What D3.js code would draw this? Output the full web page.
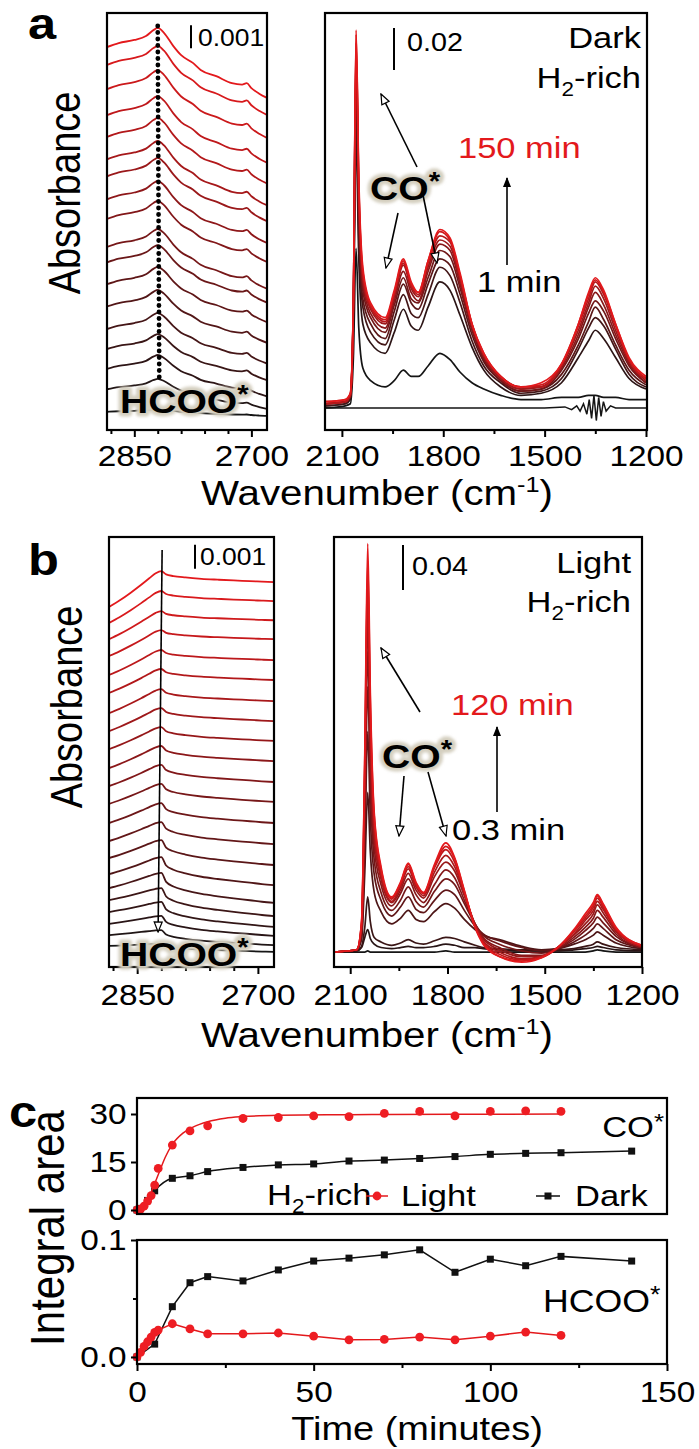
<!DOCTYPE html>
<html>
<head>
<meta charset="utf-8">
<style>
  body { margin: 0; background: #fff; }
  svg { display: block; font-family: 'Liberation Sans', Arial, sans-serif; }
</style>
<title>DRIFTS CO* and HCOO*</title>
</head>
<body>
<svg width="699" height="1449"></svg>
<script src="https://d3js.org/d3.v7.min.js"></script>
<script>
// ---------- data (absorbance in units of 0.001) ----------

// HCOO* region, dark (panel a, left), traces bottom (1 min) to top (150 min)
const hcooWavesL_a = [2885, 2870, 2850, 2835, 2825, 2820];
const hcooShapeL_a = [1, 0.79, 0.63, 0.42, 0.1, 0];
const hcooWavesR_a = [2820, 2812, 2800, 2790, 2775, 2765, 2745, 2725, 2712, 2706, 2700, 2690, 2680];
const hcooShapeR_a = [0, 0.07, 0.26, 0.39, 0.5, 0.6, 0.69, 0.79, 0.81, 0.79, 0.86, 0.94, 1];
const darkHcooPeak = [0.91, 2.22, 3.26, 4.17, 5.09, 6.09, 7.09, 8.04, 8.74, 9.96, 10.83, 11.83, 12.57, 13.57, 14.52, 15.65, 16.70, 17.48];
const darkHcooDropL = [0.12, 0.45, 0.6, 0.65, 0.7, 0.72, 0.75, 0.75, 0.78, 0.78, 0.8, 0.8, 0.8, 0.83, 0.83, 0.83, 0.83, 0.83];
const darkHcooDropR = [0.3, 1.3, 1.8, 2.0, 2.2, 2.3, 2.4, 2.5, 2.6, 2.65, 2.7, 2.75, 2.8, 2.85, 2.9, 2.95, 3.0, 3.04];

// HCOO* region, light (panel b, left)
const hcooWavesL_b = [2885, 2872, 2858, 2845, 2835, 2827, 2820];
const hcooShapeL_b = [1, 0.82, 0.6, 0.38, 0.2, 0.06, 0];
const hcooWavesR_b = [2820, 2814, 2805, 2790, 2770, 2750, 2730, 2710, 2695, 2680];
const hcooShapeR_b = [0, 0.3, 0.45, 0.58, 0.7, 0.78, 0.85, 0.91, 0.96, 1];
const lightHcooPeak = [0.96, 1.54, 2.13, 2.71, 3.29, 3.92, 4.58, 5.29, 6.04, 6.83, 7.63, 8.42, 9.21, 10.0, 10.79, 11.58, 12.42, 13.21, 14.04, 14.83, 15.67, 16.5];
const lightHcooDropL = [0.08, 0.21, 0.33, 0.42, 0.5, 0.63, 0.71, 0.75, 0.79, 0.83, 0.83, 0.88, 0.92, 0.92, 0.96, 1.0, 1.0, 1.04, 1.08, 1.17, 1.33, 1.5];
const lightHcooDropR = [0.33, 0.63, 0.83, 1.04, 1.17, 1.25, 1.17, 1.04, 0.92, 0.83, 0.75, 0.71, 0.63, 0.58, 0.54, 0.5, 0.46, 0.42, 0.38, 0.38, 0.42, 0.46];

// CO* region, dark (panel a, right), 1 min -> 150 min
const darkWaves = [2150, 2090, 2075, 2066, 2058, 2050, 2038, 2015, 1972, 1945, 1918, 1895, 1874, 1845, 1810, 1780, 1750, 1715, 1680, 1630, 1570, 1510, 1450, 1400, 1370, 1350, 1325, 1290, 1250, 1200];
const darkSpectra = [
  [0, 1, 2, 24, 76, 38, 19, 13, 10, 13, 18, 15, 15, 20, 26, 23, 17, 12, 9, 6, 4, 4, 5, 5, 6, 6, 5, 5, 4, 4],
  [1, 2, 4, 40, 129, 71, 40, 31, 26, 36, 47, 39, 37, 48, 60, 56, 44, 29, 18, 10, 6, 7, 12, 24, 32, 37, 33, 24, 14, 9],
  [1, 2, 5, 44, 143, 81, 48, 36, 30, 42, 54, 45, 43, 54, 67, 63, 50, 32, 20, 12, 7, 8, 14, 28, 38, 43, 39, 28, 16, 10],
  [2, 3, 5, 46, 152, 88, 52, 40, 33, 46, 59, 50, 47, 59, 71, 68, 54, 35, 22, 13, 8, 9, 16, 30, 41, 48, 42, 30, 18, 11],
  [2, 3, 6, 48, 160, 93, 56, 43, 36, 49, 62, 52, 50, 62, 75, 72, 57, 37, 23, 13, 8, 9, 18, 33, 45, 51, 46, 33, 20, 12],
  [2, 3, 6, 49, 166, 98, 59, 45, 38, 51, 65, 55, 51, 65, 78, 75, 59, 38, 24, 14, 9, 10, 19, 35, 48, 55, 49, 35, 21, 12],
  [2, 3, 6, 50, 170, 101, 61, 47, 40, 53, 68, 57, 53, 67, 80, 77, 61, 39, 25, 14, 9, 10, 20, 37, 50, 58, 52, 37, 22, 13],
  [2, 3, 6, 51, 174, 105, 63, 48, 41, 54, 69, 58, 54, 69, 82, 79, 62, 40, 25, 15, 10, 10, 20, 39, 52, 60, 54, 39, 23, 14],
  [3, 4, 7, 51, 178, 107, 65, 49, 42, 55, 70, 59, 55, 70, 84, 80, 63, 40, 26, 15, 10, 11, 21, 40, 54, 61, 55, 40, 23, 14],
  [3, 4, 7, 52, 180, 110, 67, 50, 43, 56, 71, 60, 55, 70, 85, 81, 64, 40, 26, 15, 10, 12, 21, 40, 55, 62, 56, 40, 24, 15]
];
const darkBaseWaves = [2150, 1500, 1440, 1420, 1405, 1395, 1385, 1375, 1368, 1361, 1354, 1347, 1340, 1333, 1326, 1318, 1305, 1290, 1200];
const darkBaseAbs = [0, 0, 0.5, -0.8, 1, -1.5, 2, -3, 4, -5, 6, -6, 5, -4, 3, -1.5, 1, 0, 0];

// CO* region, light (panel b, right), 0.3 min -> 120 min
const lightWaves = [2150, 2080, 2065, 2055, 2046, 2038, 2026, 2005, 1972, 1945, 1921, 1897, 1874, 1840, 1805, 1778, 1748, 1715, 1690, 1640, 1571, 1510, 1460, 1410, 1375, 1350, 1338, 1320, 1280, 1200];
const lightSpectra = [
  [0, 0, 0, 0, 1, 0, 0, 0, 0, 0, 0, 0, 0, 0, 1, 0, 0, 0, 0, 0, 0, 0, 0, 0, 0, 1, 2, 1, 0, 0],
  [0, 1, 4, 13, 20, 12, 7, 4, 3, 4, 5, 4, 4, 5, 7, 6, 4, 4, 3, 2, 1, 1, 1, 2, 3, 4, 5, 4, 2, 1],
  [0, 1, 5, 22, 49, 27, 13, 9, 6, 8, 11, 8, 7, 10, 13, 12, 9, 6, 4, 3, 2, 2, 2, 3, 5, 7, 9, 7, 4, 2],
  [0, 2, 11, 71, 142, 89, 53, 36, 25, 30, 37, 29, 27, 36, 43, 39, 29, 20, 15, 11, 5, 2, 3, 7, 11, 15, 18, 15, 8, 3],
  [0, 2, 14, 93, 196, 120, 69, 46, 32, 40, 49, 38, 35, 46, 55, 51, 37, 23, 16, 10, 4, 1, 3, 9, 15, 21, 25, 21, 11, 4],
  [0, 2, 17, 111, 236, 147, 82, 53, 37, 46, 58, 45, 40, 54, 65, 60, 43, 25, 15, 7, 1, -1, 3, 11, 19, 26, 31, 26, 14, 4],
  [0, 2, 20, 129, 267, 164, 93, 60, 41, 52, 65, 51, 44, 60, 73, 66, 46, 25, 13, 4, -3, -3, 3, 13, 22, 30, 37, 31, 16, 4],
  [0, 2, 21, 142, 293, 182, 102, 65, 44, 55, 70, 55, 48, 67, 80, 72, 50, 25, 12, 2, -4, -4, 4, 15, 25, 34, 42, 35, 18, 5],
  [0, 2, 23, 156, 316, 197, 109, 68, 45, 58, 74, 58, 50, 71, 86, 76, 52, 24, 10, 0, -6, -4, 4, 16, 28, 37, 45, 38, 19, 5],
  [0, 2, 25, 164, 333, 211, 116, 71, 47, 60, 76, 60, 52, 75, 91, 80, 53, 23, 9, -2, -7, -4, 4, 18, 30, 40, 48, 40, 20, 5],
  [0, 2, 26, 172, 348, 222, 121, 74, 48, 61, 78, 61, 52, 76, 94, 83, 54, 22, 8, -4, -8, -5, 4, 19, 32, 42, 50, 42, 21, 6],
  [0, 2, 27, 178, 363, 231, 124, 76, 49, 62, 79, 62, 53, 78, 97, 84, 55, 22, 7, -4, -9, -5, 4, 20, 34, 44, 51, 43, 22, 6]
];

// panel c: integral areas vs time (minutes)
const lightTime = [0, 1, 2, 3, 4, 5, 6, 10, 15, 20, 30, 40, 50, 60, 70, 80, 90, 100, 110, 120];
const lightCO = [0, 0.3, 1.2, 2.8, 4.5, 7.8, 13, 20.3, 24.7, 26.3, 28.6, 28.9, 29.4, 29.2, 30.2, 30.8, 29.4, 30.8, 31, 30.8];
const lightHCOO = [0, 0.004, 0.009, 0.013, 0.017, 0.021, 0.023, 0.0284, 0.024, 0.0198, 0.0198, 0.0205, 0.0178, 0.0147, 0.015, 0.017, 0.0147, 0.0178, 0.0213, 0.0184];
const lightFitTime = [0, 2, 4, 6, 8, 10, 13, 16, 20, 25, 30, 40, 60, 90, 120];
const lightFitCO = [0, 1.5, 5.5, 11, 16.5, 20.5, 24, 26, 27.6, 28.7, 29.2, 29.6, 29.8, 29.9, 30];
const darkTimeCO = [0, 1, 3, 5, 10, 15, 20, 30, 40, 50, 60, 70, 80, 90, 100, 110, 120, 140];
const darkCO = [0, 0.5, 3, 6, 9.9, 10.7, 12, 13.3, 14.1, 14.4, 15.3, 15.6, 16.1, 16.7, 17.4, 17.7, 17.9, 18.4];
const darkTimeHCOO = [0, 5, 10, 15, 20, 30, 40, 50, 60, 70, 80, 90, 100, 110, 120, 140];
const darkHCOO = [0, 0.011, 0.043, 0.0635, 0.0687, 0.065, 0.0744, 0.082, 0.0845, 0.0873, 0.0916, 0.0724, 0.0836, 0.078, 0.086, 0.082];

const waveTicksHcoo = [2850, 2700];
const waveMinorHcoo = [2880, 2820, 2790, 2760, 2730];
const waveTicksCO = [2100, 1800, 1500, 1200];
const waveMinorCO = [1950, 1650, 1350];
const timeTicks = [0, 50, 100, 150];
const timeMinor = [25, 75, 125];

// ---------- drawing ----------
const svg = d3.select('svg');
const SX = 1.15;          // the original figure is stretched horizontally
const RED = '#e3191c';
const traceColor = (i, n) => d3.interpolateRgb('#151515', RED)(n > 1 ? i / (n - 1) : 1);

const defs = svg.append('defs');
defs.append('filter').attr('id', 'soft').attr('x', '-20%').attr('y', '-40%')
  .attr('width', '140%').attr('height', '180%')
  .append('feGaussianBlur').attr('stdDeviation', 1.6);

defs.append('marker').attr('id', 'openHead').attr('viewBox', '0 0 12 10')
  .attr('refX', 11).attr('refY', 5).attr('markerWidth', 12).attr('markerHeight', 10)
  .attr('markerUnits', 'userSpaceOnUse').attr('orient', 'auto')
  .append('path').attr('d', 'M1,1 L11,5 L1,9 Z')
  .attr('fill', '#fff').attr('stroke', '#000').attr('stroke-width', 1.2);
defs.append('marker').attr('id', 'fullHead').attr('viewBox', '0 0 10 8')
  .attr('refX', 9).attr('refY', 4).attr('markerWidth', 10).attr('markerHeight', 8)
  .attr('markerUnits', 'userSpaceOnUse').attr('orient', 'auto')
  .append('path').attr('d', 'M0,0 L10,4 L0,8 Z').attr('fill', '#000');

function addText(x, y, size, opts = {}) {
  return svg.append('text')
    .attr('transform', `translate(${x},${y}) scale(${SX},1)${opts.rotate ? ' rotate(-90)' : ''}`)
    .attr('font-size', size)
    .attr('text-anchor', opts.anchor || 'start')
    .attr('fill', opts.color || '#000')
    .attr('font-weight', opts.bold ? 'bold' : 'normal');
}

function starText(x, y, main, size, opts = {}) {
  const build = t => {
    t.append('tspan').text(main);
    t.append('tspan').attr('font-size', size * 0.75).attr('dy', -size * 0.28).text('*');
    return t;
  };
  if (opts.halo) {
    build(addText(x, y, size, opts))
      .attr('fill', '#d4cfbf').attr('stroke', '#d4cfbf').attr('stroke-width', 7)
      .attr('stroke-linejoin', 'round').attr('filter', 'url(#soft)');
  }
  return build(addText(x, y, size, opts));
}

function h2rich(x, y, size, anchor) {
  const t = addText(x, y, size, { anchor });
  t.append('tspan').text('H');
  t.append('tspan').attr('font-size', size * 0.65).attr('dy', size * 0.27).text('2');
  t.append('tspan').attr('dy', -size * 0.27).text('-rich');
}

function arrow(x1, y1, x2, y2, head) {
  svg.append('line').attr('x1', x1).attr('y1', y1).attr('x2', x2).attr('y2', y2)
    .attr('stroke', '#000').attr('stroke-width', 1.6)
    .attr('marker-end', `url(#${head})`);
}

function frame(x0, x1, y0, y1, id) {
  defs.append('clipPath').attr('id', id)
    .append('rect').attr('x', x0).attr('y', y0).attr('width', x1 - x0).attr('height', y1 - y0);
  return () => svg.append('rect').attr('x', x0).attr('y', y0)
    .attr('width', x1 - x0).attr('height', y1 - y0)
    .attr('fill', 'none').attr('stroke', '#000').attr('stroke-width', 2.2);
}

function bottomAxis(x, y0, major, minor, pad, fmt) {
  const g = svg.append('g').attr('transform', `translate(0,${y0})`)
    .call(d3.axisBottom(x).tickValues(major).tickSize(7).tickPadding(pad).tickSizeOuter(0).tickFormat(fmt || d3.format('d')));
  g.select('.domain').remove();
  g.attr('font-size', 29).attr('font-family', null);
  g.selectAll('line').attr('stroke-width', 2);
  g.selectAll('text').attr('transform', `scale(${SX},1)`);
  const m = svg.append('g').attr('transform', `translate(0,${y0})`)
    .call(d3.axisBottom(x).tickValues(minor).tickSize(4).tickFormat(''));
  m.select('.domain').remove();
  m.selectAll('line').attr('stroke-width', 2);
}

function stacked(x, y, peaks, dropsL, dropsR, wL, sL, wR, sR, clipId, width) {
  const line = d3.line().x(d => x(d[0])).y(d => y(d[1])).curve(d3.curveMonotoneX);
  const traces = peaks.map((p, k) => {
    const pts = wL.map((w, i) => [w, p - dropsL[k] * sL[i]]);
    wR.slice(1).forEach((w, i) => pts.push([w, p - dropsR[k] * sR[i + 1]]));
    return pts;
  });
  svg.append('g').attr('clip-path', `url(#${clipId})`)
    .selectAll('path').data(traces).join('path')
    .attr('d', line).attr('fill', 'none')
    .attr('stroke', (d, i) => traceColor(i, traces.length))
    .attr('stroke-width', width);
}

function spectra(x, y, waves, rows, clipId, width) {
  const line = d3.line().x(d => x(d[0])).y(d => y(d[1])).curve(d3.curveMonotoneX);
  svg.append('g').attr('clip-path', `url(#${clipId})`)
    .selectAll('path').data(rows).join('path')
    .attr('d', r => line(waves.map((w, i) => [w, r[i]])))
    .attr('fill', 'none')
    .attr('stroke', (d, i) => traceColor(i, rows.length))
    .attr('stroke-width', width);
}

function scaleBar(x, y, top, len) {
  svg.append('line').attr('x1', x).attr('x2', x)
    .attr('y1', y(top)).attr('y2', y(top - len))
    .attr('stroke', '#000').attr('stroke-width', 2);
}

// ----- panel a -----
const xaL = d3.scaleLinear([2885, 2680], [107, 267]);
const yaL = d3.scaleLinear([0, 18.13], [430, 13]);
const xaR = d3.scaleLinear([2150, 1197], [325, 647]);
const yaR = d3.scaleLinear([-10.5, 188.1], [430, 13]);
const frameAL = frame(107, 267, 13, 430, 'clipAL');
const frameAR = frame(325, 647, 13, 430, 'clipAR');

stacked(xaL, yaL, darkHcooPeak, darkHcooDropL, darkHcooDropR,
  hcooWavesL_a, hcooShapeL_a, hcooWavesR_a, hcooShapeR_a, 'clipAL', 1.8);
svg.append('line').attr('x1', xaL(2820)).attr('x2', xaL(2818))
  .attr('y1', 26).attr('y2', 382)
  .attr('stroke', '#000').attr('stroke-width', 4.8)
  .attr('stroke-linecap', 'round').attr('stroke-dasharray', '0,6.5');
frameAL();
bottomAxis(xaL, 430, waveTicksHcoo, waveMinorHcoo, 8);
scaleBar(191, yaL, 17.6, 1);
addText(198, 46, 23).text('0.001');
starText(120, 413, 'HCOO', 34, { bold: true, halo: true });

svg.append('path').attr('clip-path', 'url(#clipAR)')
  .attr('d', d3.line().x(d => xaR(d[0])).y(d => yaR(d[1]))(darkBaseWaves.map((w, i) => [w, darkBaseAbs[i]])))
  .attr('fill', 'none').attr('stroke', '#151515').attr('stroke-width', 1.5);
spectra(xaR, yaR, darkWaves, darkSpectra, 'clipAR', 1.7);
frameAR();
bottomAxis(xaR, 430, waveTicksCO, waveMinorCO, 8);
scaleBar(394, yaR, 181, 20);
addText(407, 51, 25).text('0.02');
addText(641, 48, 30, { anchor: 'end' }).text('Dark');
h2rich(641, 88, 30, 'end');
addText(458, 158, 30, { color: RED }).text('150 min');
arrow(507, 265, 507, 178, 'fullHead');
addText(477, 292, 30).text('1 min');
starText(370, 200, 'CO', 34, { bold: true, halo: true });
arrow(417, 167, 381, 94, 'openHead');
arrow(398, 213, 386, 268, 'openHead');
arrow(423, 195, 437, 263, 'openHead');

function waveTitle(y) {
  const t = addText(377, y, 35, { anchor: 'middle' });
  t.append('tspan').text('Wavenumber (cm');
  t.append('tspan').attr('font-size', 22).attr('dy', -13).text('-1');
  t.append('tspan').attr('dy', 13).text(')');
}
waveTitle(505);
addText(80, 193, 38, { rotate: true, anchor: 'middle' }).text('Absorbance');
addText(28, 39, 44, { bold: true }).text('a');

// ----- panel b -----
const xbL = d3.scaleLinear([2885, 2680], [109, 274]);
const ybL = d3.scaleLinear([0, 17.92], [967, 537]);
const xbR = d3.scaleLinear([2150, 1200], [334, 642]);
const ybR = d3.scaleLinear([-13.3, 368.9], [967, 537]);
const frameBL = frame(109, 274, 537, 967, 'clipBL');
const frameBR = frame(334, 642, 537, 967, 'clipBR');

stacked(xbL, ybL, lightHcooPeak, lightHcooDropL, lightHcooDropR,
  hcooWavesL_b, hcooShapeL_b, hcooWavesR_b, hcooShapeR_b, 'clipBL', 1.8);
frameBL();
arrow(xbL(2819), 550, xbL(2824), 932, 'openHead');
bottomAxis(xbL, 967, waveTicksHcoo, waveMinorHcoo, 10);
scaleBar(195, ybL, 17.6, 1);
addText(200, 565, 23).text('0.001');
starText(120, 966, 'HCOO', 34, { bold: true, halo: true });

spectra(xbR, ybR, lightWaves, lightSpectra, 'clipBR', 1.7);
frameBR();
bottomAxis(xbR, 967, waveTicksCO, waveMinorCO, 10);
scaleBar(403, ybR, 361.8, 40);
addText(412, 575, 25).text('0.04');
addText(631, 573, 30, { anchor: 'end' }).text('Light');
h2rich(631, 612, 30, 'end');
addText(451, 715, 30, { color: RED }).text('120 min');
arrow(497, 812, 497, 727, 'fullHead');
addText(452, 840, 30).text('0.3 min');
starText(382, 768, 'CO', 34, { bold: true, halo: true });
arrow(420, 712, 381, 648, 'openHead');
arrow(404, 776, 399, 836, 'openHead');
arrow(428, 772, 446, 836, 'openHead');

waveTitle(1047);
addText(82, 707, 38, { rotate: true, anchor: 'middle' }).text('Absorbance');
addText(28, 575, 44, { bold: true }).text('b');

// ----- panel c -----
const xc = d3.scaleLinear([0, 150], [137, 667]);
const ycTop = d3.scaleLinear([-1.25, 35], [1214, 1098]);
const ycBot = d3.scaleLinear([-0.006, 0.1], [1364, 1240]);
const frameCT = frame(137, 667, 1098, 1214, 'clipCT');
const frameCB = frame(137, 667, 1240, 1364, 'clipCB');

function leftAxis(y, major, minor, fmt) {
  const g = svg.append('g').attr('transform', 'translate(137,0)')
    .call(d3.axisLeft(y).tickValues(major).tickSize(6).tickPadding(3).tickSizeOuter(0).tickFormat(fmt));
  g.select('.domain').remove();
  g.attr('font-size', 29).attr('font-family', null);
  g.selectAll('line').attr('stroke-width', 2);
  g.selectAll('text').attr('transform', `scale(${SX},1)`);
  if (minor.length) {
    const m = svg.append('g').attr('transform', 'translate(137,0)')
      .call(d3.axisLeft(y).tickValues(minor).tickSize(4).tickFormat(''));
    m.select('.domain').remove();
    m.selectAll('line').attr('stroke-width', 2);
  }
}

function series(y, times, vals, color, curve, marker) {
  svg.append('path')
    .attr('d', d3.line().x(d => xc(d[0])).y(d => y(d[1])).curve(curve)(times.map((t, i) => [t, vals[i]])))
    .attr('fill', 'none').attr('stroke', color).attr('stroke-width', 1.5);
  if (!marker) return;
  const pts = times.map((t, i) => [t, vals[i]]);
  if (marker === 'circle') {
    svg.append('g').selectAll('circle').data(pts).join('circle')
      .attr('cx', d => xc(d[0])).attr('cy', d => y(d[1])).attr('r', 4.4)
      .attr('fill', '#ee1d23');
  } else {
    svg.append('g').selectAll('rect').data(pts).join('rect')
      .attr('x', d => xc(d[0]) - 3.5).attr('y', d => y(d[1]) - 3.5)
      .attr('width', 7).attr('height', 7).attr('fill', '#111');
  }
}

// top: CO*
series(ycTop, darkTimeCO, darkCO, '#111', d3.curveMonotoneX, 'square');
series(ycTop, lightFitTime, lightFitCO, RED, d3.curveMonotoneX, null);
svg.append('g').selectAll('circle').data(lightTime.map((t, i) => [t, lightCO[i]])).join('circle')
  .attr('cx', d => xc(d[0])).attr('cy', d => ycTop(d[1])).attr('r', 4.4).attr('fill', '#ee1d23');
frameCT();
leftAxis(ycTop, [0, 15, 30], [], d3.format('d'));
starText(664, 1137, 'CO', 30, { anchor: 'end' });

// legend
h2rich(267, 1205, 30, 'start');
svg.append('line').attr('x1', 366).attr('x2', 388).attr('y1', 1196).attr('y2', 1196)
  .attr('stroke', RED).attr('stroke-width', 1.5);
svg.append('circle').attr('cx', 377).attr('cy', 1196).attr('r', 4.4).attr('fill', '#ee1d23');
addText(401, 1206, 30).text('Light');
svg.append('line').attr('x1', 536).attr('x2', 560).attr('y1', 1196).attr('y2', 1196)
  .attr('stroke', '#111').attr('stroke-width', 1.5);
svg.append('rect').attr('x', 544.5).attr('y', 1192.5).attr('width', 7).attr('height', 7).attr('fill', '#111');
addText(575, 1206, 30).text('Dark');

// bottom: HCOO*
series(ycBot, darkTimeHCOO, darkHCOO, '#111', d3.curveLinear, 'square');
series(ycBot, lightTime, lightHCOO, RED, d3.curveLinear, 'circle');
frameCB();
leftAxis(ycBot, [0, 0.1], [0.05], d3.format('.1f'));
bottomAxis(xc, 1364, timeTicks, timeMinor, 10);
starText(543, 1312, 'HCOO', 31);

addText(64, 1228, 42, { rotate: true, anchor: 'middle' }).text('Integral area');
addText(417, 1440, 33, { anchor: 'middle' }).text('Time (minutes)');
addText(9, 1127, 44, { bold: true }).text('c');
</script>
</body>
</html>
